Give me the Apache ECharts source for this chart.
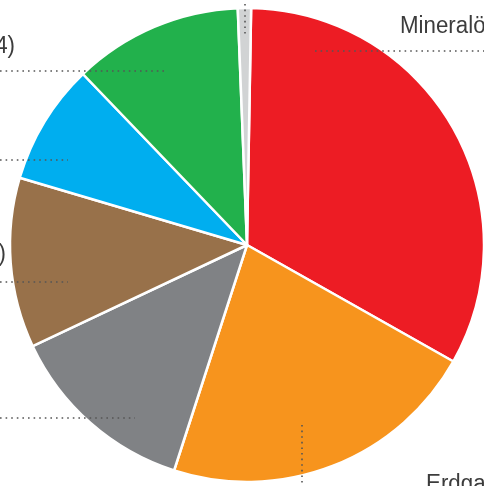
<!DOCTYPE html>
<html>
<head>
<meta charset="utf-8">
<script src="https://cdn.jsdelivr.net/npm/echarts@6/dist/echarts.min.js"></script>
<style>
html,body{margin:0;padding:0;background:#fff;}
#c{width:484px;height:486px;}
</style>
</head>
<body>
<div id="c"></div>
<script>
// Data (share in %), clockwise from top
const categories = ['Mineralöl', 'Erdgas', 'Steinkohle', 'Braunkohle', 'Kernenergie', 'Erneuerbare Energien', 'Sonstige'];
const values = [32.9, 21.8, 13.0, 11.6, 8.25, 11.55, 0.9];
const colors = ['#ED1C24', '#F7941D', '#808285', '#98714A', '#00AEEF', '#22B14C', '#D1D3D4'];

const chart = echarts.init(document.getElementById('c'), null, {renderer: 'canvas'});
const font = '"Liberation Sans",Arial,sans-serif';
const dot = {stroke: '#555', lineWidth: 1.6, lineDash: [1.6, 4]};
function hline(x1, y, x2) { return {type: 'line', shape: {x1: x1, y1: y, x2: x2, y2: y}, style: dot, z: 10}; }
function vline(x, y1, y2) { return {type: 'line', shape: {x1: x, y1: y1, x2: x, y2: y2}, style: dot, z: 10}; }
function txt(t, x, y, align) {
  return {type: 'text', x: x, y: y, z: 10, scaleX: 0.97,
    style: {text: t, fill: '#3c3c3c', font: '23px ' + font, textAlign: align || 'left', textVerticalAlign: 'middle'}};
}

chart.setOption({
  animation: false,
  series: [{
    type: 'pie',
    center: [247, 245],
    radius: 237,
    startAngle: 89,
    clockwise: true,
    label: {show: false},
    labelLine: {show: false},
    itemStyle: {borderColor: '#fff', borderWidth: 2.5},
    data: categories.map((c, i) => ({name: c, value: values[i], itemStyle: {color: colors[i]}}))
  }],
  graphic: [
    hline(315, 51, 484),
    txt('Mineralöl', 400, 27),
    vline(302, 425, 486),
    txt('Erdgas', 426, 485),
    hline(0, 418, 135),
    hline(0, 282, 68),
    txt('Braunkohle 3)', 6, 255, 'right'),
    hline(0, 160, 68),
    hline(0, 71, 166),
    txt('Erneuerbare 4)', 15, 47, 'right'),
    vline(245, 4, 34)
  ]
});
</script>
</body>
</html>
